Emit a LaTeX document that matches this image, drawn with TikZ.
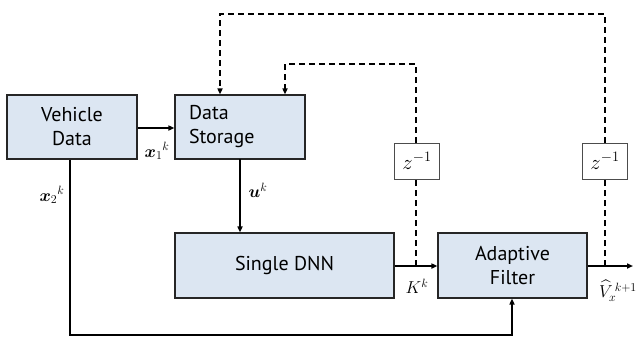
\documentclass[tikz,border=0pt]{standalone}
\usepackage{fontspec}
\usepackage{amsmath,bm}
\setsansfont{PT Sans}
\usetikzlibrary{arrows.meta}
\definecolor{boxfill}{HTML}{DCE6F2}
\begin{document}
\begin{tikzpicture}[x=1pt,y=-1pt,
  blk/.style={draw=black!85,line width=1.1pt,fill=boxfill,inner sep=0pt,align=center,
    font=\sffamily\fontsize{20}{24}\selectfont},
  zbox/.style={draw=black!70,line width=0.8pt,fill=white,minimum width=45pt,minimum height=36pt,inner sep=0pt,
    font=\fontsize{20}{22}\selectfont},
  flow/.style={line width=1.6pt,-{Triangle[length=6pt,width=5pt]}},
  fb/.style={line width=1.6pt,dash pattern=on 6pt off 4pt},
  fbarrow/.style={line width=1.6pt,dash pattern=on 6pt off 4pt,-{Triangle[length=6pt,width=5pt]}},
  lab/.style={font=\fontsize{17}{19}\selectfont,inner sep=0pt}]
\useasboundingbox (0,0) rectangle (644,338);
\node[blk,minimum width=130pt,minimum height=64pt] (vd) at (72,127) {Vehicle\\Data};
\node[blk,minimum width=130pt,minimum height=64pt,align=left,text width=102pt] (ds) at (240,127) {Data\\Storage};
\node[blk,minimum width=219pt,minimum height=65pt] (dnn) at (284.5,265.5) {Single DNN};
\node[blk,minimum width=149pt,minimum height=65pt] (af) at (512.5,265.5) {Adaptive\\Filter};
\node[zbox] (z1) at (417,161) {$z^{-1}$};
\node[zbox] (z2) at (605,161) {$z^{-1}$};
\coordinate (j1) at (416,266);
\coordinate (j2) at (605,266);
\coordinate (c1a) at (416,64);
\coordinate (c1b) at (285,64);
\coordinate (c2a) at (605,14);
\coordinate (c2b) at (220,14);
\coordinate (out) at (633,266);
\coordinate (b1) at (70,335);
\coordinate (b2) at (512,335);
% solid flows
\draw[flow] (vd.east |- 0,128) -- (ds.west |- 0,128);
\draw[flow] (240,159) -- (dnn.north -| 240,0);
\draw[flow] (dnn.east |- j1) -- (af.west |- j1);
\draw[flow] (af.east |- j2) -- (out);
\draw[flow] (vd.south -| b1) -- (b1) -- (b2) -- (af.south -| b2);
% feedback
\draw[fb] (j1) -- (z1.south -| j1);
\draw[fbarrow] (z1.north -| c1a) -- (c1a) -- (c1b) -- (ds.north -| c1b);
\draw[fb] (j2) -- (z2.south);
\draw[fbarrow] (z2.north) -- (c2a) -- (c2b) -- (ds.north -| c2b);
% labels
\node[lab] (lx1) at (157,151) {$\bm{x}_1{}^{k}$};
\node[lab] (lx2) at (52,195) {$\bm{x}_2{}^{k}$};
\node[lab] (lu) at (258,190) {$\bm{u}^{k}$};
\node[lab] (lK) at (417,286) {$K^{k}$};
\node[lab] (lV) at (618,291) {$\widehat{V}_x^{\,k+1}$};
\end{tikzpicture}
\end{document}
